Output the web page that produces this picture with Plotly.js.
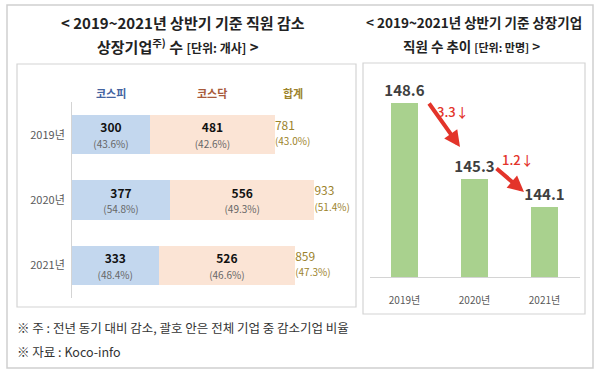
<!DOCTYPE html>
<html>
<head>
<meta charset="utf-8">
<script src="https://cdn.plot.ly/plotly-3.0.1.min.js"></script>
<style>html,body{margin:0;padding:0;background:#fff;}#chart{width:600px;height:376px;}</style>
</head>
<body>
<div id="chart"></div>
<script>
// ---- data ----
const years = ['2019년', '2020년', '2021년'];
const kospi = [300, 377, 333];
const kosdaq = [481, 556, 526];
const totals = [781, 933, 859];
const kospiPct = ['43.6%', '54.8%', '48.4%'];
const kosdaqPct = ['42.6%', '49.3%', '46.6%'];
const totalPct = ['43.0%', '51.4%', '47.3%'];

const empYears = ['2019년', '2020년', '2021년'];
const employees = [148.6, 145.3, 144.1];
const dropLabels = ['3.3↓', '1.2↓'];

// ---- helpers ----
const W = 600, H = 376;
const px = x => x / W;
const py = y => 1 - y / H;
const FONT = '"Noto Sans CJK KR", "Noto Sans", sans-serif';

const segTpl = "<b>%{x}</b><br><span style='font-size:10px;color:#666'>(%{customdata})</span>";

const traces = [
  {
    type: 'bar', orientation: 'h', name: '코스피',
    y: years, x: kospi, customdata: kospiPct,
    xaxis: 'x', yaxis: 'y', width: 0.6,
    marker: {color: '#c3d7ee'},
    texttemplate: segTpl, textposition: 'inside', insidetextanchor: 'middle',
    textangle: 0, constraintext: 'none',
    insidetextfont: {family: FONT, size: 12, color: '#111'},
    hoverinfo: 'skip'
  },
  {
    type: 'bar', orientation: 'h', name: '코스닥',
    y: years, x: kosdaq, customdata: kosdaqPct,
    xaxis: 'x', yaxis: 'y', width: 0.6,
    marker: {color: '#fbe4d5'},
    texttemplate: segTpl, textposition: 'inside', insidetextanchor: 'middle',
    textangle: 0, constraintext: 'none',
    insidetextfont: {family: FONT, size: 12, color: '#111'},
    hoverinfo: 'skip'
  },
  {
    type: 'scatter', mode: 'text', name: '합계',
    y: years, x: totals,
    text: totals.map((t, i) => t + "<br><span style='font-size:10px'>(" + totalPct[i] + ")</span>"),
    textposition: 'middle right',
    textfont: {family: FONT, size: 12, color: '#9c832c'},
    xaxis: 'x', yaxis: 'y', cliponaxis: false, hoverinfo: 'skip'
  },
  {
    type: 'bar', name: '직원 수',
    x: empYears, y: employees,
    xaxis: 'x2', yaxis: 'y2', width: 0.39,
    marker: {color: '#a9d18e'},
    text: employees.map(v => v.toFixed(1)), textposition: 'outside', constraintext: 'none',
    textangle: 0,
    outsidetextfont: {family: FONT, size: 15, color: '#3f3f3f', weight: 'bold'},
    cliponaxis: false, hoverinfo: 'skip'
  }
];

const lineCol = '#d4d4d4';
const shapes = [
  {type: 'rect', xref: 'paper', yref: 'paper', x0: px(7), x1: px(593), y0: py(368), y1: py(5), line: {color: '#cfcfcf', width: 1.5}, layer: 'below'},
  {type: 'rect', xref: 'paper', yref: 'paper', x0: px(17), x1: px(356), y0: py(307), y1: py(64), line: {color: lineCol, width: 1.2}, layer: 'below'},
  {type: 'rect', xref: 'paper', yref: 'paper', x0: px(363), x1: px(585), y0: py(314), y1: py(63), line: {color: lineCol, width: 1.2}, layer: 'below'}
];

const ann = [];
// titles
ann.push({xref: 'paper', yref: 'paper', x: px(183), y: py(22), xanchor: 'center', yanchor: 'middle', showarrow: false,
  text: '<b>&lt; 2019~2021년 상반기 기준 직원 감소</b>', font: {family: FONT, size: 15, color: '#222'}});
ann.push({xref: 'paper', yref: 'paper', x: px(178), y: py(46), xanchor: 'center', yanchor: 'middle', showarrow: false,
  text: "<b>상장기업<sup>주)</sup> 수 <span style='font-size:12px'>[단위: 개사]</span> &gt;</b>", font: {family: FONT, size: 15, color: '#222'}});
ann.push({xref: 'paper', yref: 'paper', x: px(474), y: py(22), xanchor: 'center', yanchor: 'middle', showarrow: false,
  text: '<b>&lt; 2019~2021년 상반기 기준 상장기업</b>', font: {family: FONT, size: 13.5, color: '#222'}});
ann.push({xref: 'paper', yref: 'paper', x: px(471), y: py(46), xanchor: 'center', yanchor: 'middle', showarrow: false,
  text: "<b>직원 수 추이 <span style='font-size:11px'>[단위: 만명]</span> &gt;</b>", font: {family: FONT, size: 13.5, color: '#222'}});
// footnotes
ann.push({xref: 'paper', yref: 'paper', x: px(15), y: py(327), xanchor: 'left', yanchor: 'middle', showarrow: false,
  text: '※ 주 : 전년 동기 대비 감소, 괄호 안은 전체 기업 중 감소기업 비율', font: {family: FONT, size: 12.5, color: '#333'}});
ann.push({xref: 'paper', yref: 'paper', x: px(15), y: py(351), xanchor: 'left', yanchor: 'middle', showarrow: false,
  text: '※ 자료 : Koco-info', font: {family: FONT, size: 12.5, color: '#333'}});
// column headers above first row
const hdrY = 1 + (102 - 93) / 196;
ann.push({xref: 'x', yref: 'y domain', x: kospi[0] / 2, y: hdrY, showarrow: false, xanchor: 'center', yanchor: 'middle',
  text: '<b>코스피</b>', font: {family: FONT, size: 11, color: '#44639f'}});
ann.push({xref: 'x', yref: 'y domain', x: kospi[0] + kosdaq[0] / 2, y: hdrY, showarrow: false, xanchor: 'center', yanchor: 'middle',
  text: '<b>코스닥</b>', font: {family: FONT, size: 11, color: '#a85a3a'}});
ann.push({xref: 'x', yref: 'y domain', x: totals[0], y: hdrY, showarrow: false, xanchor: 'left', yanchor: 'middle', xshift: 6,
  text: '<b>합계</b>', font: {family: FONT, size: 11, color: '#9c832c'}});
// drop arrows
ann.push({xref: 'x2', yref: 'y2', axref: 'x2', ayref: 'y2', x: 0.793, y: 146.68, ax: 0.336, ay: 148.63,
  showarrow: true, arrowhead: 2, arrowsize: 0.8, arrowwidth: 4, arrowcolor: '#e3342a', text: ''});
ann.push({xref: 'x2', yref: 'y2', axref: 'x2', ayref: 'y2', x: 1.707, y: 144.73, ax: 1.293, ay: 145.81,
  showarrow: true, arrowhead: 2, arrowsize: 0.8, arrowwidth: 4, arrowcolor: '#e3342a', text: ''});
ann.push({xref: 'x2', yref: 'y2', x: 0.693, y: 148.2, showarrow: false, xanchor: 'center', yanchor: 'middle',
  text: dropLabels[0], font: {family: FONT, size: 13, color: '#e3342a', weight: 500}});
ann.push({xref: 'x2', yref: 'y2', x: 1.621, y: 146.12, showarrow: false, xanchor: 'center', yanchor: 'middle',
  text: dropLabels[1], font: {family: FONT, size: 13, color: '#e3342a', weight: 500}});

const layout = {
  width: W, height: H,
  margin: {l: 0, r: 0, t: 0, b: 0},
  paper_bgcolor: '#fff', plot_bgcolor: 'rgba(0,0,0,0)',
  showlegend: false, barmode: 'stack',
  font: {family: FONT},
  xaxis: {domain: [px(72), px(350)], range: [0, 1070], anchor: 'y',
    showgrid: false, zeroline: false, showticklabels: false, showline: false, fixedrange: true},
  yaxis: {domain: [py(298), py(102)], type: 'category', categoryorder: 'array', categoryarray: years,
    range: [2.5, -0.5], anchor: 'x', showgrid: false, zeroline: false,
    showline: true, linecolor: lineCol, linewidth: 1, ticks: '', ticklabelstandoff: 4,
    tickfont: {family: FONT, size: 11, color: '#595959'}},
  xaxis2: {domain: [px(369.5), px(579.5)], range: [-0.5, 2.5], type: 'category', anchor: 'y2',
    showgrid: false, zeroline: false, showline: true, linecolor: lineCol, linewidth: 1,
    ticks: '', ticklabelstandoff: 14, tickfont: {family: FONT, size: 10, color: '#595959'}},
  yaxis2: {domain: [py(277), py(75)], range: [141.05, 149.8], anchor: 'x2',
    visible: false, showgrid: false, zeroline: false},
  shapes: shapes,
  annotations: ann
};

Plotly.newPlot('chart', traces, layout, {displayModeBar: false, staticPlot: true});
</script>
</body>
</html>
